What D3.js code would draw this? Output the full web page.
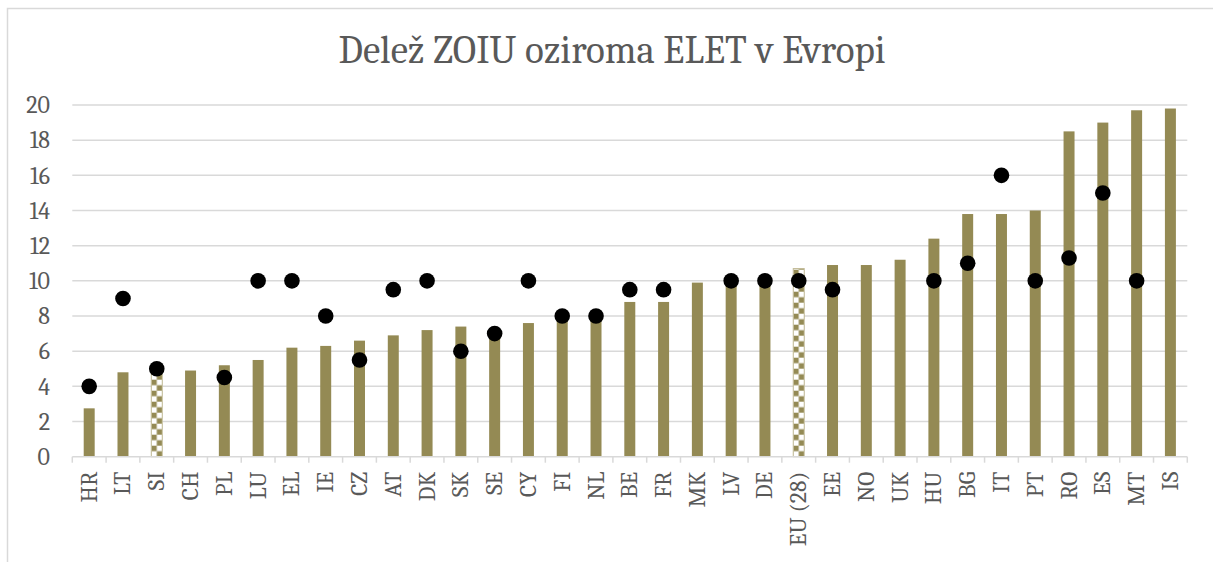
<!DOCTYPE html>
<html>
<head>
<meta charset="utf-8">
<script src="https://cdn.jsdelivr.net/npm/d3@7"></script>
<style>
  html, body { margin: 0; padding: 0; background: #fff; }
  svg { display: block; }
</style>
</head>
<body>
<svg id="chart" width="1213" height="562"></svg>
<script>
const categories = ["HR","LT","SI","CH","PL","LU","EL","IE","CZ","AT","DK","SK","SE","CY","FI","NL","BE","FR","MK","LV","DE","EU (28)","EE","NO","UK","HU","BG","IT","PT","RO","ES","MT","IS"];
const barValues = [2.75,4.8,4.8,4.9,5.2,5.5,6.2,6.3,6.6,6.9,7.2,7.4,7.0,7.6,8.0,8.0,8.8,8.8,9.9,10.0,10.0,10.7,10.9,10.9,11.2,12.4,13.8,13.8,14.0,18.5,19.0,19.7,19.8];
const targetValues = [4,9,5,null,4.5,10,10,8,5.5,9.5,10,6,7,10,8,8,9.5,9.5,null,10,10,10,9.5,null,null,10,11,16,10,11.3,15,10,null];
const patternedCategories = ["SI","EU (28)"];
const yTicks = [0,2,4,6,8,10,12,14,16,18,20];
const titleText = "Delež ZOIU oziroma ELET v Evropi";

(function () {
const W = 1213, H = 562;
const pLeft = 72.3, pRight = 1187.3, pTop = 105, pBottom = 456.7;
const olive = "#948A54";
const gridColor = "#d9d9d9";
const textColor = "#595959";
const serif = "Cambria, 'DejaVu Serif', serif";

const svg = d3.select("#chart");

svg.append("rect").attr("x", 7.5).attr("y", 8.5).attr("width", W).attr("height", H)
  .attr("fill", "#fff").attr("stroke", gridColor).attr("stroke-width", 1.5);

const x = d3.scaleBand().domain(categories).range([pLeft, pRight])
  .paddingInner(0.675).paddingOuter(0.3375);
const y = d3.scaleLinear().domain([0, 20]).range([pBottom, pTop]);

// checker patterns aligned to each patterned bar
const defs = svg.append("defs");
const bw = x.bandwidth();
const cellH = 5.5;
patternedCategories.forEach((c, k) => {
  const pat = defs.append("pattern").attr("id", "checker" + k)
    .attr("patternUnits", "userSpaceOnUse")
    .attr("x", x(c)).attr("y", pBottom)
    .attr("width", bw).attr("height", cellH * 2);
  pat.append("rect").attr("width", bw).attr("height", cellH * 2).attr("fill", "#fff");
  pat.append("rect").attr("x", 0).attr("y", 0).attr("width", bw / 2).attr("height", cellH).attr("fill", olive);
  pat.append("rect").attr("x", bw / 2).attr("y", cellH).attr("width", bw / 2).attr("height", cellH).attr("fill", olive);
});

svg.append("g").selectAll("line").data(yTicks.filter(d => d > 0)).join("line")
  .attr("x1", pLeft).attr("x2", pRight)
  .attr("y1", d => y(d)).attr("y2", d => y(d))
  .attr("stroke", gridColor).attr("stroke-width", 1.5);

const yAxis = d3.axisLeft(y).tickValues(yTicks).tickSize(0).tickPadding(0).tickFormat(d3.format("d"));
const gy = svg.append("g").attr("transform", `translate(${50},0)`).call(yAxis);
gy.select(".domain").remove();
gy.selectAll("text").attr("font-family", serif).attr("font-size", 24).attr("fill", textColor);

svg.append("g").selectAll("rect").data(categories).join("rect")
  .attr("x", d => x(d))
  .attr("width", bw)
  .attr("y", (d, i) => y(barValues[i]))
  .attr("height", (d, i) => y(0) - y(barValues[i]))
  .attr("fill", d => {
    const k = patternedCategories.indexOf(d);
    return k >= 0 ? `url(#checker${k})` : olive;
  })
  .attr("stroke", d => patternedCategories.includes(d) ? "#c2bb98" : "none")
  .attr("stroke-width", 1);

const gapHalf = (x.step() - bw) / 2;
const boundaries = categories.map(c => x(c) - gapHalf).concat([pRight]);
svg.append("line").attr("x1", pLeft).attr("x2", pRight).attr("y1", pBottom).attr("y2", pBottom)
  .attr("stroke", gridColor).attr("stroke-width", 1.5);
svg.append("g").selectAll("line").data(boundaries).join("line")
  .attr("x1", d => d).attr("x2", d => d).attr("y1", pBottom).attr("y2", pBottom + 6)
  .attr("stroke", gridColor).attr("stroke-width", 1.5);

svg.append("g").selectAll("text").data(categories).join("text")
  .attr("transform", d => `translate(${x(d) + bw / 2},${pBottom + 15}) rotate(-90)`)
  .attr("text-anchor", "end")
  .attr("dominant-baseline", "central")
  .attr("font-family", serif).attr("font-size", 23.5).attr("fill", textColor)
  .text(d => d);

const dotData = categories.map((c, i) => ({c, v: targetValues[i]})).filter(d => d.v !== null);
svg.append("g").selectAll("circle").data(dotData).join("circle")
  .attr("cx", d => x(d.c) + bw / 2)
  .attr("cy", d => y(d.v))
  .attr("r", 7.8)
  .attr("fill", "#000");

svg.append("text").attr("x", 612).attr("y", 63).attr("text-anchor", "middle")
  .attr("font-family", serif).attr("font-size", 39).attr("fill", textColor)
  .text(titleText);
})();
</script>
</body>
</html>
